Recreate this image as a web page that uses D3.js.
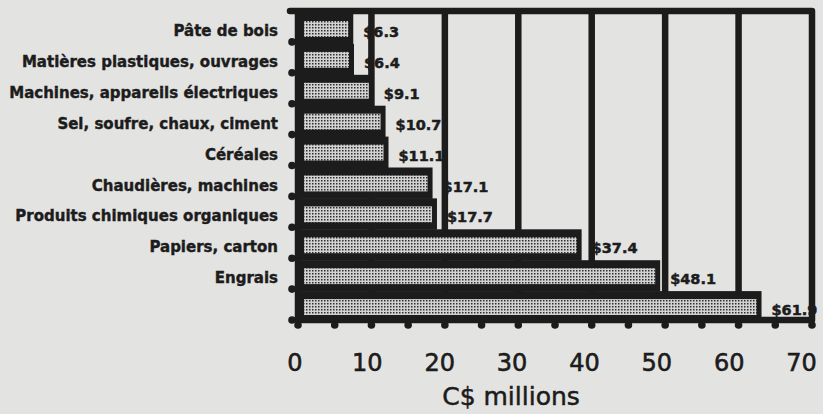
<!DOCTYPE html>
<html lang="fr">
<head>
  <meta charset="utf-8"/>
  <title>Exportations – C$ millions</title>
  <script src="https://d3js.org/d3.v7.min.js"></script>
  <style>
    html, body { margin: 0; padding: 0; background: #e3e3e2; }
    svg { display: block; }
  </style>
</head>
<body>
<svg id="chart" width="823" height="414"></svg>
<script>
  // data
  const categories = [
    "Pâte de bois",
    "Matières plastiques, ouvrages",
    "Machines, appareils électriques",
    "Sel, soufre, chaux, ciment",
    "Céréales",
    "Chaudières, machines",
    "Produits chimiques organiques",
    "Papiers, carton",
    "Engrais",
    ""
  ];
  const values = [6.3, 6.4, 9.1, 10.7, 11.1, 17.1, 17.7, 37.4, 48.1, 61.9];
  const xTicks = [0, 10, 20, 30, 40, 50, 60, 70];
  const minorTicks = [0, 5, 10, 15, 20, 25, 30, 35, 40, 45, 50, 55, 60, 65, 70];
  const axisTitle = "C$ millions";

  const ink = "#1c1c1c";
  const svg = d3.select("#chart");

  const x = d3.scaleLinear().domain([0, 70]).range([298, 812]);
  const xLab = d3.scaleLinear().domain([0, 70]).range([294.5, 801]);
  const y = d3.scaleBand().domain(d3.range(categories.length)).range([11, 320]);
  const bw = y.bandwidth();

  // stipple fill like the printed screen
  const defs = svg.append("defs");
  const pat = defs.append("pattern")
    .attr("id", "stipple")
    .attr("patternUnits", "userSpaceOnUse")
    .attr("width", 3).attr("height", 3);
  pat.append("rect").attr("width", 3).attr("height", 3).attr("fill", "#d2d2d2");
  pat.append("rect").attr("width", 1.5).attr("height", 1.5).attr("fill", "#2e2e2e");

  // category labels
  svg.append("g").selectAll("text")
    .data(categories)
    .join("text")
    .attr("x", 278)
    .attr("y", (d, i) => y(i) + 25)
    .attr("text-anchor", "end")
    .attr("font-family", "DejaVu Sans, sans-serif")
    .attr("font-weight", "bold")
    .attr("font-size", 15)
    .attr("fill", ink)
    .attr("stroke", ink)
    .attr("stroke-width", 0.4)
    .text(d => d);

  // value labels (under the grid, as in the print)
  svg.append("g").selectAll("text")
    .data(values)
    .join("text")
    .attr("x", d => x(d) + 19)
    .attr("y", (d, i) => y(i) + 26)
    .attr("font-family", "DejaVu Sans, sans-serif")
    .attr("font-weight", "bold")
    .attr("font-size", 14.5)
    .attr("fill", ink)
    .attr("stroke", ink)
    .attr("stroke-width", 0.5)
    .text(d => "$" + d3.format(".1f")(d));

  // vertical grid
  svg.append("g").selectAll("line")
    .data(xTicks.slice(1, -1))
    .join("line")
    .attr("x1", d => x(d)).attr("x2", d => x(d))
    .attr("y1", 11).attr("y2", 320)
    .attr("stroke", ink)
    .attr("stroke-width", 6.5);

  // bars: heavy black block with stippled inset
  const bars = svg.append("g").selectAll("g")
    .data(values)
    .join("g");
  bars.append("rect")
    .attr("x", x(0) - 3)
    .attr("y", (d, i) => y(i) + 2)
    .attr("width", d => x(d) + 9 - (x(0) - 3))
    .attr("height", bw + 0.5)
    .attr("fill", ink);
  bars.append("rect")
    .attr("x", x(0) + 6)
    .attr("y", (d, i) => y(i) + 10)
    .attr("width", d => x(d) + 4 - (x(0) + 6))
    .attr("height", bw - 15)
    .attr("fill", "url(#stipple)");

  // frame
  svg.append("path")
    .attr("d", `M${x(0) - 8},11 H${x(70)} V320 H${x(0)} V11`)
    .attr("fill", "none")
    .attr("stroke", ink)
    .attr("stroke-width", 6.5)
    .attr("stroke-linejoin", "round")
    .attr("stroke-linecap", "round");

  // tick dots
  svg.append("g").selectAll("circle")
    .data(minorTicks)
    .join("circle")
    .attr("cx", d => x(d))
    .attr("cy", 325)
    .attr("r", 3.8)
    .attr("fill", ink);
  svg.append("g").selectAll("circle")
    .data(d3.range(1, categories.length + 1))
    .join("circle")
    .attr("cx", 292)
    .attr("cy", d => y(d - 1) + bw)
    .attr("r", 3.8)
    .attr("fill", ink);

  // x axis labels
  const ax = svg.append("g")
    .attr("transform", "translate(0,350)")
    .call(d3.axisBottom(xLab).tickValues(xTicks).tickSize(0).tickPadding(0));
  ax.select(".domain").remove();
  ax.selectAll("text")
    .attr("dy", null)
    .attr("y", 21)
    .attr("font-family", "DejaVu Sans, sans-serif")
    .attr("font-size", 24)
    .attr("fill", ink)
    .attr("stroke", ink)
    .attr("stroke-width", 0.6);

  svg.append("text")
    .attr("x", 511)
    .attr("y", 405)
    .attr("text-anchor", "middle")
    .attr("font-family", "DejaVu Sans, sans-serif")
    .attr("font-size", 25)
    .attr("fill", ink)
    .attr("stroke", ink)
    .attr("stroke-width", 0.5)
    .text(axisTitle);
</script>
</body>
</html>
